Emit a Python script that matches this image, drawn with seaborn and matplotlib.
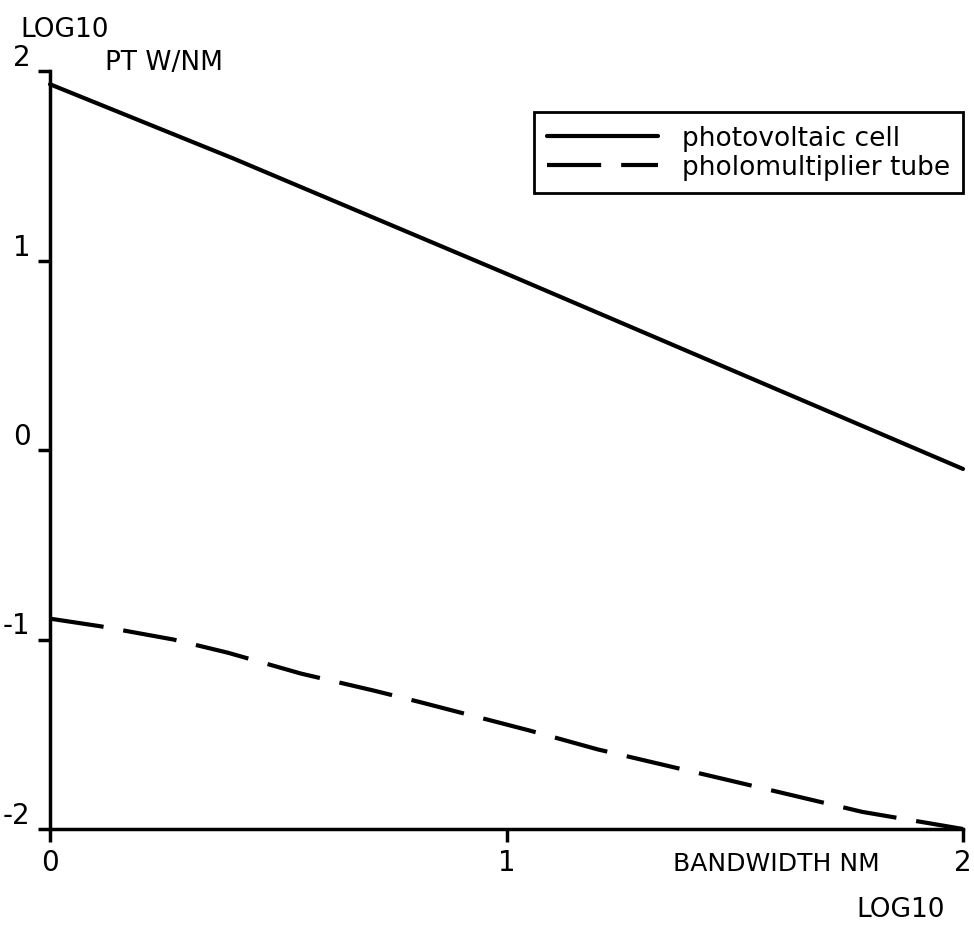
import numpy as np
import pandas as pd
import seaborn as sns
import matplotlib.pyplot as plt

# log10 bandwidth (nm) vs log10 PT (W/nm)
pv_x = [0.0, 0.4, 1.0, 2.0]
pv_y = [1.93, 1.54, 0.93, -0.10]

pm_x = [0.0, 0.11, 0.27, 0.39, 0.55, 0.71, 0.81, 1.05, 1.2, 1.5, 1.78, 2.0]
pm_y = [-0.89, -0.93, -1.0, -1.07, -1.18, -1.27, -1.33, -1.48, -1.58, -1.75, -1.91, -2.0]

series_names = ["photovoltaic cell", "pholomultiplier tube"]
x_ticks = [0, 1, 2]
x_ticklabels = ["0", "1", "2"]
y_ticks = [-2, -1, 0, 1, 2]
y_ticklabels = ["-2", "-1", "0", "1", "2"]

df = pd.concat([
    pd.DataFrame({"x": pv_x, "y": pv_y, "series": series_names[0]}),
    pd.DataFrame({"x": pm_x, "y": pm_y, "series": series_names[1]}),
])

sns.set_style("ticks")
plt.rcParams["font.family"] = ["DejaVu Sans"]
plt.rcParams["text.color"] = "black"

W, H = 974, 928
fig = plt.figure(figsize=(W / 100, H / 100), dpi=100)
ax = fig.add_axes([50 / W, 1 - 830 / H, (963 - 50) / W, (830 - 72) / H])

sns.lineplot(data=df[df.series == series_names[0]], x="x", y="y", ax=ax,
             color="black", lw=3.0, label=series_names[0], clip_on=False)
sns.lineplot(data=df[df.series == series_names[1]], x="x", y="y", ax=ax,
             color="black", lw=3.0, linestyle=(0, (13, 4.8)),
             label=series_names[1], clip_on=False)

ax.set_xlim(0, 2)
ax.set_ylim(-2, 2)
ax.set_xticks(x_ticks)
ax.set_xticklabels(x_ticklabels)
ax.set_yticks(y_ticks)
ax.set_yticklabels(y_ticklabels)
ax.set_xlabel("")
ax.set_ylabel("")
sns.despine(ax=ax)
for s in ["left", "bottom"]:
    ax.spines[s].set_linewidth(2.5)
    ax.spines[s].set_color("black")
ax.tick_params(axis="both", direction="out", length=9, width=2.5, colors="black",
               labelcolor="black", labelsize=20)
ax.tick_params(axis="x", pad=5)
ax.tick_params(axis="y", pad=5)
for lbl in ax.get_yticklabels():
    lbl.set_verticalalignment("bottom")

leg = ax.legend(loc="upper right", bbox_to_anchor=(963 / W, 1 - 113 / H),
                bbox_transform=fig.transFigure, borderaxespad=0,
                handlelength=4.2, handletextpad=0.9,
                borderpad=0.5, labelspacing=0.1, fancybox=False,
                prop={"family": "DejaVu Sans", "size": 19})
leg.get_frame().set_edgecolor("black")
leg.get_frame().set_linewidth(2)
leg.get_frame().set_alpha(1)
for t in leg.get_texts():
    t.set_color("black")

fig.text(20 / W, 1 - 17 / H, "LOG10", fontsize=19, va="top", ha="left")
fig.text(105 / W, 1 - 50 / H, "PT W/NM", fontsize=19, va="top", ha="left")
fig.text(673 / W, 1 - 852 / H, "BANDWIDTH NM", fontsize=18, va="top", ha="left")
fig.text(945 / W, 1 - 897 / H, "LOG10", fontsize=19, va="top", ha="right")

fig.savefig("out.png", dpi=100, facecolor="white")
